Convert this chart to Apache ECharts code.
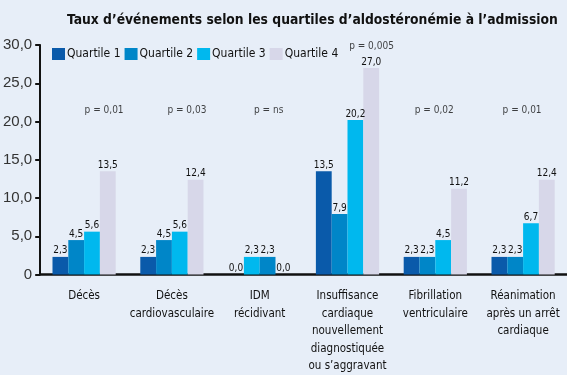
<!DOCTYPE html>
<html>
<head>
<meta charset="utf-8">
<script src="https://cdn.jsdelivr.net/npm/echarts@6/dist/echarts.min.js"></script>
<style>
  html, body { margin: 0; padding: 0; background: #e7eef8; }
  #chart { width: 567px; height: 375px; }
</style>
</head>
<body>
<div id="chart"></div>
<script>
// values
const categories = [
  'Décès',
  'Décès\ncardiovasculaire',
  'IDM\nrécidivant',
  'Insuffisance\ncardiaque\nnouvellement\ndiagnostiquée\nou s\u2019aggravant',
  'Fibrillation\nventriculaire',
  'Réanimation\naprès un arrêt\ncardiaque'
];
const quartile1 = [2.3, 2.3, 0.0, 13.5, 2.3, 2.3];
const quartile2 = [4.5, 4.5, 2.3, 7.9, 2.3, 2.3];
const quartile3 = [5.6, 5.6, 2.3, 20.2, 4.5, 6.7];
const quartile4 = [13.5, 12.4, 0.0, 27.0, 11.2, 12.4];
const pValues = ['p = 0,01', 'p = 0,03', 'p = ns', 'p = 0,005', 'p = 0,02', 'p = 0,01'];
const pLevels = [21.5, 21.5, 21.5, 29.8, 21.5, 21.5];
const yTicks = [0, 5, 10, 15, 20, 25, 30];

const colors = ['#0a5aaa', '#0086c8', '#00b8ee', '#d7d7e9'];
const cond = '"DejaVu Sans Condensed", sans-serif';
const comma = v => v.toFixed(1).replace('.', ',');

const chart = echarts.init(document.getElementById('chart'));

function barSeries(name, values, idx) {
  return {
    name: name,
    type: 'bar',
    barGap: 0,
    barCategoryGap: '28%',
    itemStyle: {color: colors[idx]},
    label: {
      show: true,
      position: 'top',
      distance: 1,
      fontFamily: cond,
      fontSize: 10,
      color: '#111',
      formatter: p => comma(p.value)
    },
    data: values.map((v, i) => {
      // in the IDM group the Q2 / Q3 colours are swapped in the original
      if (i === 2 && idx === 1) return {value: v, itemStyle: {color: colors[2]}};
      if (i === 2 && idx === 2) return {value: v, itemStyle: {color: colors[1]}};
      return v;
    })
  };
}

const pShift = [20, 15, 9, 24, -1, -1];

chart.setOption({
  backgroundColor: '#e7eef8',
  animation: false,
  title: {
    text: 'Taux d\u2019événements selon les quartiles d\u2019aldostéronémie à l\u2019admission',
    left: 62,
    top: 8,
    textStyle: {fontFamily: cond, fontWeight: 'bold', fontSize: 13.75, color: '#111'}
  },
  legend: {
    data: ['Quartile 1', 'Quartile 2', 'Quartile 3', 'Quartile 4'],
    left: 47,
    top: 43,
    icon: 'rect',
    itemWidth: 13,
    itemHeight: 12,
    itemGap: 4,
    textStyle: {fontFamily: cond, fontSize: 12, color: '#111', padding: [0, 0, 0, -3]}
  },
  grid: {left: 40, right: -15, top: 45, bottom: 97, containLabel: false},
  xAxis: {
    type: 'category',
    data: categories,
    axisLine: {lineStyle: {color: '#111', width: 2.5}},
    axisTick: {show: false},
    axisLabel: {
      interval: 0,
      margin: 13,
      fontFamily: cond,
      fontSize: 11.5,
      lineHeight: 17.5,
      color: '#111'
    }
  },
  yAxis: {
    type: 'value',
    min: yTicks[0],
    max: yTicks[yTicks.length - 1],
    interval: 5,
    splitLine: {show: false},
    axisLine: {show: true, lineStyle: {color: '#111', width: 2}},
    axisTick: {show: true, length: 5, lineStyle: {color: '#111', width: 2}},
    axisLabel: {
      margin: 8,
      fontFamily: '"Liberation Sans", sans-serif',
      fontSize: 15,
      color: '#333',
      formatter: v => v === 0 ? '0' : comma(v)
    }
  },
  series: [
    barSeries('Quartile 1', quartile1, 0),
    barSeries('Quartile 2', quartile2, 1),
    barSeries('Quartile 3', quartile3, 2),
    barSeries('Quartile 4', quartile4, 3),
    {
      type: 'scatter',
      symbolSize: 0,
      clip: false,
      silent: true,
      data: pLevels.map((v, i) => ({
        value: v,
        label: {offset: [pShift[i], 0]}
      })),
      label: {
        show: true,
        position: 'inside',
        fontFamily: cond,
        fontSize: 10,
        color: '#111',
        formatter: p => pValues[p.dataIndex]
      }
    }
  ]
});
</script>
</body>
</html>
